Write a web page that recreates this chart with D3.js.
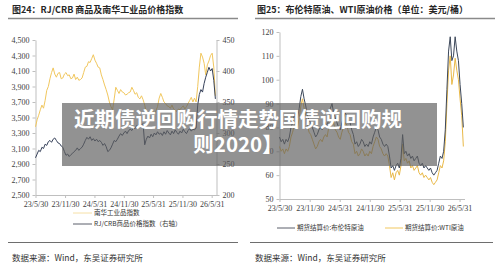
<!DOCTYPE html>
<html>
<head>
<meta charset="utf-8">
<script src="https://cdn.jsdelivr.net/npm/d3@7"></script>
<style>
    body { margin: 0; background: #fff; }
    svg { display: block; }
    .axis .tick text { font-family: "Liberation Serif", "DejaVu Serif", serif; font-size: 8px; fill: #404040; }
    .axis path, .axis line { stroke: #bfbfbf; }
    .cjk { font-family: "Noto Sans CJK SC", sans-serif; }
</style>
</head>
<body>
<div id="chart"></div>
<script>

// one value every 10 days, starting 2023-05-30
const startDate = new Date(2023, 4, 30);
const endDate = new Date(2026, 5, 30);
const stepDays = 10;

const xTickDates = ["2023-05-30", "2023-11-30", "2024-05-31", "2024-11-30", "2025-05-31", "2025-11-30", "2026-05-31"];

// 南华工业品指数 (left axis)
const nanhuaIndex = [
    3380, 3470, 3530, 3600, 3660, 3620, 3720, 3850, 3900, 4000,
    4080, 4140, 4060, 4020, 4070, 4080, 4000, 4010, 4060, 4080,
    4040, 4050, 4000, 4010, 4060, 3990, 4020, 3980, 3990, 4010,
    4080, 4150, 4160, 4220, 4210, 4260, 4310, 4240, 4200, 4150,
    4140, 4050, 3990, 3920, 3860, 3790, 3700, 3640, 3600, 3740,
    3890, 3850, 3810, 3860, 3830, 3820, 3790, 3800, 3820, 3830,
    3890, 3850, 3800, 3820, 3760, 3740, 3780, 3730, 3660, 3560,
    3520, 3560, 3600, 3580, 3550, 3590, 3640, 3750, 3810, 3760,
    3700, 3680, 3650, 3640, 3620, 3660, 3610, 3590, 3580, 3610,
    3600, 3630, 3650, 3610, 3640, 3680, 3720, 3760, 3700, 3750,
    3700, 3900, 4150, 4330, 4280, 4200, 4050, 4180, 4230, 4300, 4330, 4150, 3780
];

// RJ/CRB商品价格指数 (right axis)
const crbIndex = [
    260, 266, 272, 270, 277, 275, 282, 280, 286, 288,
    285, 290, 292, 288, 284, 283, 279, 277, 270, 264,
    266, 262, 265, 267, 270, 272, 276, 272, 275, 277,
    282, 288, 293, 290, 294, 288, 291, 287, 290, 286,
    288, 285, 280, 283, 278, 270, 272, 276, 282, 288,
    286, 290, 295, 299, 296, 300, 303, 299, 304, 306,
    304, 309, 307, 312, 310, 315, 313, 315, 281, 290,
    295, 292, 298, 294, 300, 297, 302, 298, 300, 296,
    302, 298, 304, 300, 297, 303, 299, 305, 301, 298,
    303, 300, 306, 302, 299, 304, 307, 303, 306, 305,
    308, 345, 362, 370, 366, 380, 390, 398, 406, 400, 404, 385, 355
];

// 期货结算价:布伦特原油
const brentPrice = [
    76, 74, 75, 73, 75, 74, 76, 80, 82, 85,
    86, 84, 88, 93, 96, 92, 89, 85, 83, 82,
    80, 78, 76, 77, 79, 80, 79, 81, 82, 80,
    84, 88, 90, 86, 84, 82, 80, 79, 82, 84,
    86, 85, 83, 82, 79, 77, 73, 74, 72, 73,
    75, 74, 72, 73, 72, 74, 73, 76, 78, 80,
    79, 76, 75, 73, 72, 73, 72, 68, 63, 64,
    62, 64, 65, 63, 67, 77, 69, 70, 68, 69,
    67, 68, 66, 67, 68, 65, 64, 65, 63, 64,
    63, 62, 63, 61, 60, 61, 62, 65, 68, 67,
    70, 79, 96, 112, 118, 108, 110, 118, 112, 108, 98, 90, 80
];

// 期货结算价:WTI原油
const wtiPrice = [
    72, 70, 71, 69, 71, 70, 72, 76, 78, 81,
    82, 80, 84, 89, 92, 88, 85, 81, 78, 77,
    75, 73, 71, 72, 74, 75, 74, 76, 77, 76,
    80, 83, 85, 82, 79, 78, 76, 75, 78, 80,
    82, 81, 78, 77, 74, 73, 69, 70, 68, 69,
    71, 70, 68, 69, 68, 70, 69, 72, 74, 76,
    75, 72, 71, 69, 68, 69, 68, 64, 59, 61,
    58, 61, 62, 60, 64, 73, 66, 67, 65, 66,
    63, 64, 62, 63, 64, 61, 60, 61, 59, 60,
    59, 58, 59, 57, 56, 57, 58, 61, 64, 63,
    66, 74, 90, 104, 110, 98, 102, 109, 104, 100, 92, 85, 72
];

const leftYTicks = [2500, 2700, 2900, 3100, 3300, 3500, 3700, 3900, 4100, 4300, 4500];
const rightYTicks = [200, 250, 300, 350, 400, 450];
const oilYTicks = [50, 60, 70, 80, 90, 100, 110, 120];

const colors = {
    nanhua: "#f1c75e",
    crb: "#36415a",
    brent: "#3c4759",
    wti: "#e9b948"
};

const parseDate = d3.timeParse("%Y-%m-%d");
const fmtDate = d3.timeFormat("%y/%-m/%-d");
const dates = nanhuaIndex.map((d, i) => d3.timeDay.offset(startDate, i * stepDays));
const tickDates = xTickDates.map(parseDate);

const svg = d3.select("#chart").append("svg")
    .attr("width", 500)
    .attr("height", 270);

svg.append("rect").attr("width", 500).attr("height", 270).attr("fill", "#fff");

//// Titles and rules
svg.append("text")
    .attr("class", "cjk")
    .attr("x", 12).attr("y", 13)
    .style("font-size", "9px").style("font-weight", "bold").style("fill", "#262626")
    .text("图24：RJ/CRB 商品及南华工业品价格指数");

svg.append("text")
    .attr("class", "cjk")
    .attr("x", 257).attr("y", 13)
    .style("font-size", "9px").style("font-weight", "bold").style("fill", "#262626")
    .text("图25：布伦特原油、WTI原油价格（单位：美元/桶）");

[[8, 238], [255, 495]].forEach(r => {
    svg.append("line").attr("x1", r[0]).attr("x2", r[1]).attr("y1", 18.5).attr("y2", 18.5)
        .attr("stroke", "#8a8a8a").attr("stroke-width", 1.5);
});

//// Left chart
let xL = d3.scaleTime().domain([startDate, endDate]).range([35.5, 216.5]);
let yL = d3.scaleLinear().domain([2500, 4500]).range([195, 40]);
let yR = d3.scaleLinear().domain([200, 450]).range([195, 40]);

svg.append("g")
    .attr("class", "axis")
    .attr("transform", "translate(0,195)")
    .call(d3.axisBottom(xL).tickValues(tickDates).tickFormat(fmtDate).tickSize(3).tickSizeOuter(0));

svg.append("g")
    .attr("class", "axis")
    .attr("transform", "translate(35.5,0)")
    .call(d3.axisLeft(yL).tickValues(leftYTicks).tickFormat(d3.format(",")).tickSize(3).tickSizeOuter(0));

svg.append("g")
    .attr("class", "axis")
    .attr("transform", "translate(216.5,0)")
    .call(d3.axisRight(yR).tickValues(rightYTicks).tickSize(3).tickSizeOuter(0));

svg.append("path")
    .datum(nanhuaIndex)
    .attr("fill", "none").attr("stroke", colors.nanhua).attr("stroke-width", 1)
    .attr("d", d3.line().x((d, i) => xL(dates[i])).y(d => yL(d)));

svg.append("path")
    .datum(crbIndex)
    .attr("fill", "none").attr("stroke", colors.crb).attr("stroke-width", 1)
    .attr("d", d3.line().x((d, i) => xL(dates[i])).y(d => yR(d)));

//// Right chart
let xO = d3.scaleTime().domain([startDate, endDate]).range([279.5, 464.5]);
let yO = d3.scaleLinear().domain([50, 120]).range([199, 32]);

svg.append("g")
    .attr("class", "axis")
    .attr("transform", "translate(0,199)")
    .call(d3.axisBottom(xO).tickValues(tickDates).tickFormat(fmtDate).tickSize(3).tickSizeOuter(0));

svg.append("g")
    .attr("class", "axis")
    .attr("transform", "translate(279.5,0)")
    .call(d3.axisLeft(yO).tickValues(oilYTicks).tickSize(3).tickSizeOuter(0));

svg.append("path")
    .datum(wtiPrice)
    .attr("fill", "none").attr("stroke", colors.wti).attr("stroke-width", 1)
    .attr("d", d3.line().x((d, i) => xO(dates[i])).y(d => yO(d)));

svg.append("path")
    .datum(brentPrice)
    .attr("fill", "none").attr("stroke", colors.brent).attr("stroke-width", 1)
    .attr("d", d3.line().x((d, i) => xO(dates[i])).y(d => yO(d)));

//// Legends
const legendItems = [
    { x: 73, y: 213, w: 19, color: "#f6e0a6", label: "南华工业品指数" },
    { x: 73, y: 224, w: 19, color: "#5a5f6b", label: "RJ/CRB商品价格指数（右轴）" },
    { x: 277, y: 228, w: 18, color: "#5a5f6b", label: "期货结算价:布伦特原油" },
    { x: 385, y: 228, w: 18, color: "#f1c75e", label: "期货结算价:WTI原油" }
];

legendItems.forEach(item => {
    svg.append("line")
        .attr("x1", item.x).attr("x2", item.x + item.w)
        .attr("y1", item.y).attr("y2", item.y)
        .attr("stroke", item.color).attr("stroke-width", 1);
    svg.append("text")
        .attr("class", "cjk")
        .attr("x", item.x + item.w + 2).attr("y", item.y)
        .attr("dy", "0.35em")
        .style("font-size", "6.5px").style("fill", "#333")
        .text(item.label);
});

//// Bottom rules and source
[[8, 238], [250, 493]].forEach(r => {
    svg.append("line").attr("x1", r[0]).attr("x2", r[1]).attr("y1", 242.5).attr("y2", 242.5)
        .attr("stroke", "#6e6e6e").attr("stroke-width", 1.2);
});

[12, 255].forEach(x => {
    svg.append("text")
        .attr("class", "cjk")
        .attr("x", x).attr("y", 258).attr("dy", "0.35em")
        .style("font-size", "8.5px").style("fill", "#333")
        .text("数据来源：Wind，东吴证券研究所");
});

//// Overlay banner
svg.append("rect")
    .attr("x", 62).attr("y", 103).attr("width", 375).attr("height", 63)
    .attr("fill", "rgba(95,95,95,0.68)");

const bannerLines = ["近期债逆回购行情走势国债逆回购规", "则2020】"];
bannerLines.forEach((t, i) => {
    svg.append("text")
        .attr("class", "cjk")
        .attr("x", 238).attr("y", 127 + i * 25)
        .attr("text-anchor", "middle")
        .style("font-size", "20.5px").style("font-weight", "bold").style("fill", "#fff")
        .text(t);
});

</script>
</body>
</html>
